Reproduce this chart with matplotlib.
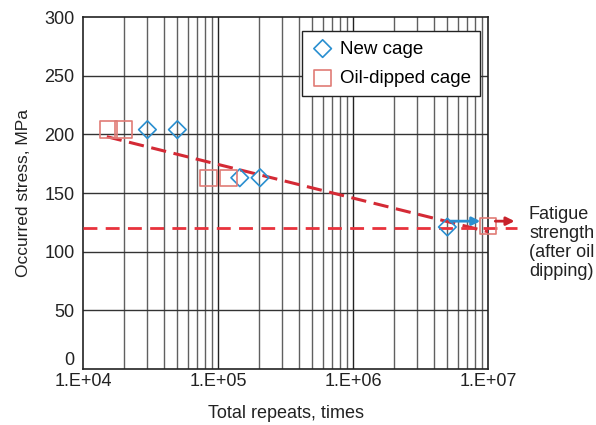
import matplotlib
matplotlib.use("Agg")
import matplotlib.pyplot as plt
from matplotlib.ticker import FixedLocator, NullFormatter
import numpy as np

plt.rcParams['font.family'] = ['Liberation Sans', 'DejaVu Sans']

new_x = [3e4, 5e4, 1.45e5, 2.05e5, 5e6]
new_y = [204, 204, 163, 163, 121]
oil_x = [1.55e4, 2e4, 8.5e4, 1.2e5, 1e7]
oil_y = [204, 204, 163, 163, 122]
fit_x = [1.5e4, 1e7]
fit_y = [198, 117]
fatigue_y = 120

fig = plt.figure(figsize=(5.96, 4.25), dpi=100)
ax = fig.add_axes([83/596, 1-369/425, (488-83)/596, (369-17)/425])
ax.set_xscale('log')
ax.set_xlim(1e4, 1e7)
ax.set_ylim(0, 300)

# grid
minor = [m*10**e for e in range(4, 7) for m in range(2, 10)]
for xv in minor:
    ax.axvline(xv, color='#606060', lw=1.0, zorder=0)
for xv in [1e5, 1e6]:
    ax.axvline(xv, color='#222222', lw=1.0, zorder=0)
for yv in range(50, 300, 50):
    ax.axhline(yv, color='#333333', lw=1.0, zorder=0)

ax.plot(fit_x, fit_y, color='#d42a35', lw=2.2, ls=(0, (5, 2.5)), zorder=3)
ax.plot([1e4, 1.65e7], [fatigue_y, fatigue_y], color='#e8323c', lw=2.0, ls=(0, (5, 3)), clip_on=False, zorder=3)

ax.scatter(new_x, new_y, marker='D', s=80, facecolors='none', edgecolors='#2a8fd0', lw=1.2, zorder=4, label='New cage')
ax.scatter(oil_x, oil_y, marker='s', s=140, facecolors='none', edgecolors='#e07b76', lw=1.2, zorder=4, label='Oil-dipped cage', clip_on=False)

ax.annotate('', xy=(9.2e6, 126), xytext=(5.0e6, 126),
            arrowprops=dict(arrowstyle='-|>', color='#2a8fd0', lw=2, mutation_scale=12), zorder=5)
ax.annotate('', xy=(1.65e7, 126), xytext=(1.08e7, 126), annotation_clip=False,
            arrowprops=dict(arrowstyle='-|>', color='#c8232c', lw=2, mutation_scale=12), zorder=5)

fig.text(529/596, 1-206/425, 'Fatigue\nstrength\n(after oil\ndipping)', fontsize=13,
         va='top', ha='left', linespacing=1.15, color='#222222')

ax.set_xticks([1e4, 1e5, 1e6, 1e7])
ax.set_xticklabels(['1.E+04', '1.E+05', '1.E+06', '1.E+07'])
ax.xaxis.set_minor_locator(FixedLocator(minor))
ax.xaxis.set_minor_formatter(NullFormatter())
ax.tick_params(axis='x', which='both', length=0, labelsize=13, pad=3, colors='#222222')
ax.set_yticks(range(0, 301, 50))
ax.tick_params(axis='y', length=0, labelsize=13, pad=6, colors='#222222')
ax.set_yticklabels(['0', '50', '100', '150', '200', '250', '300'])
ax.get_yticklabels()[0].set_va('bottom')

ax.set_xlabel('Total repeats, times', fontsize=13, labelpad=11, color='#222222')
ax.set_ylabel('Occurred stress, MPa', fontsize=12.5, labelpad=10, color='#222222')

for s in ax.spines.values():
    s.set_color('#222222')
    s.set_linewidth(1.2)

leg = ax.legend(loc='upper left', bbox_to_anchor=((302-83)/405, 1-(31-17)/352), fontsize=13.5,
                frameon=True, fancybox=False, edgecolor='#222222', framealpha=1,
                handletextpad=0.3, borderpad=0.5, labelspacing=0.65, handlelength=1.2,
                borderaxespad=0)
leg.get_frame().set_linewidth(1.0)

fig.savefig('out.png', dpi=100)
